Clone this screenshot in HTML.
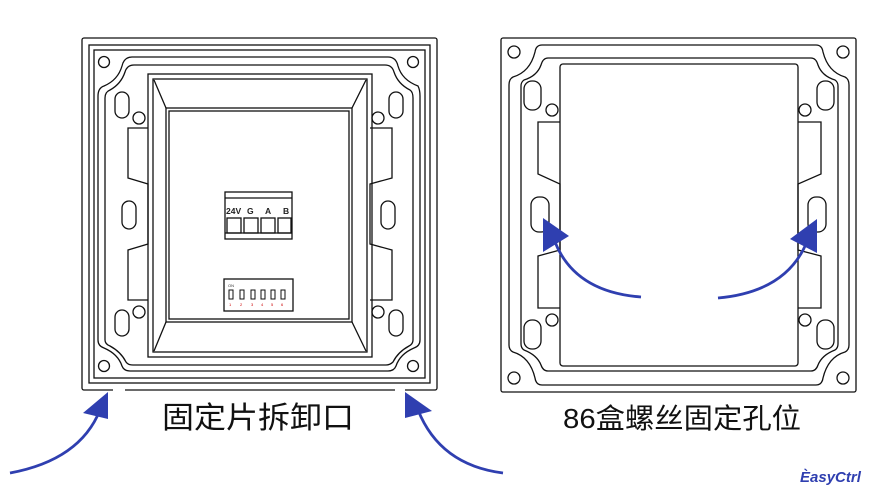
<!DOCTYPE html>
<html><head><meta charset="utf-8"><style>
html,body{margin:0;padding:0;background:#fff;width:870px;height:486px;overflow:hidden}
svg{display:block}
text{font-family:"Liberation Sans","Noto Sans CJK SC",sans-serif}
</style></head><body>
<svg width="870" height="486" viewBox="0 0 870 486" xmlns="http://www.w3.org/2000/svg">
<g fill="none" stroke="#111" stroke-width="1.3">
<!-- LEFT PANEL -->
<rect x="82" y="38" width="355" height="352" rx="2"/>
<rect x="89" y="45" width="341" height="338"/>
<rect x="94" y="50" width="331" height="328"/>
<path d="M132,57 H388 Q396,57 398,66 Q402,80 418,86 Q420,90 420,96 V340 Q420,346 414,348 Q400,354 396,366 Q394,371 388,371 H130 Q124,371 122,366 Q118,354 104,348 Q98,346 98,340 V96 Q98,88 104,86 Q118,80 122,66 Q124,57 132,57 Z"/>
<path d="M134,65 H385 Q392,65 394,72 Q398,84 410,90 Q413,92 413,98 V340 Q413,344 409,346 Q398,352 393,362 Q390,365 386,365 H133 Q128,365 126,362 Q121,352 110,346 Q105,344 105,340 V98 Q105,92 110,90 Q121,84 125,72 Q127,65 134,65 Z"/>
<circle cx="104" cy="62" r="5.5"/><circle cx="413" cy="62" r="5.5"/>
<circle cx="104" cy="366" r="5.5"/><circle cx="413" cy="366" r="5.5"/>
<rect x="115" y="92" width="14" height="26" rx="7"/><rect x="389" y="92" width="14" height="26" rx="7"/>
<rect x="115" y="310" width="14" height="26" rx="7"/><rect x="389" y="310" width="14" height="26" rx="7"/>
<rect x="122" y="201" width="14" height="28" rx="7"/><rect x="381" y="201" width="14" height="28" rx="7"/>
<circle cx="139" cy="118" r="6"/><circle cx="378" cy="118" r="6"/>
<circle cx="139" cy="312" r="6"/><circle cx="378" cy="312" r="6"/>
<path d="M148,128 H128 V178 L148,184 V244 L128,250 V300 H148"/>
<path d="M370,128 H392 V178 L370,184 V244 L392,250 V300 H370"/>
<rect x="148" y="74" width="224" height="283"/>
<rect x="153" y="79" width="214" height="273"/>
<rect x="166" y="108" width="186" height="214"/>
<rect x="169" y="111" width="180" height="208"/>
<line x1="154" y1="80" x2="166" y2="108"/><line x1="366" y1="80" x2="352" y2="108"/>
<line x1="154" y1="351" x2="166" y2="322"/><line x1="366" y1="351" x2="352" y2="322"/>
<rect x="225" y="192" width="67" height="47"/>
<line x1="225" y1="198" x2="292" y2="198"/>
<line x1="225" y1="233" x2="292" y2="233"/>
<rect x="227" y="218" width="14" height="15"/><rect x="244" y="218" width="14" height="15"/><rect x="261" y="218" width="14" height="15"/><rect x="278" y="218" width="13" height="15"/>
<rect x="224" y="279" width="69" height="32"/>
<g stroke-width="1"><rect x="229" y="290" width="4" height="9"/><rect x="240" y="290" width="4" height="9"/><rect x="251" y="290" width="4" height="9"/><rect x="261" y="290" width="4" height="9"/><rect x="271" y="290" width="4" height="9"/><rect x="281" y="290" width="4" height="9"/></g>
<!-- RIGHT PANEL -->
<rect x="501" y="38" width="355" height="354" rx="2"/>
<path d="M542,45 H816 Q822,45 823,52 Q828,72 845,77 Q849,79 849,85 V345 Q849,350 845,352 Q828,357 823,378 Q822,385 816,385 H542 Q536,385 535,378 Q530,357 513,352 Q509,350 509,345 V85 Q509,79 513,77 Q530,72 535,52 Q536,45 542,45 Z"/>
<path d="M548,58 H811 Q816,58 818,65 Q822,76 835,80 Q838,82 838,86 V344 Q838,348 835,350 Q822,355 818,365 Q816,371 811,371 H548 Q543,371 541,365 Q537,355 524,350 Q521,348 521,344 V86 Q521,82 524,80 Q537,76 541,65 Q543,58 548,58 Z"/>
<circle cx="514" cy="52" r="6"/><circle cx="843" cy="52" r="6"/>
<circle cx="514" cy="378" r="6"/><circle cx="843" cy="378" r="6"/>
<rect x="524" y="81" width="17" height="29" rx="8"/><rect x="817" y="81" width="17" height="29" rx="8"/>
<rect x="524" y="320" width="17" height="29" rx="8"/><rect x="817" y="320" width="17" height="29" rx="8"/>
<rect x="531" y="197" width="18" height="35" rx="8"/><rect x="808" y="197" width="18" height="35" rx="8"/>
<circle cx="552" cy="110" r="6"/><circle cx="805" cy="110" r="6"/>
<circle cx="552" cy="320" r="6"/><circle cx="805" cy="320" r="6"/>
<path d="M560,122 H538 V174 L560,184 V250 L538,256 V308 H560"/>
<path d="M798,122 H821 V174 L798,184 V250 L821,256 V308 H798"/>
<rect x="560" y="64" width="238" height="302" rx="3"/>
</g>
<!-- gaps at bottom of left frame -->
<line x1="113" y1="390" x2="125" y2="390" stroke="#fff" stroke-width="3"/>
<line x1="395" y1="390" x2="405" y2="390" stroke="#fff" stroke-width="3"/>
<!-- labels on terminal -->
<g font-family="Liberation Sans" font-weight="bold" font-size="8.5" fill="#222">
<text x="226" y="214">24V</text><text x="247" y="214">G</text><text x="265" y="214">A</text><text x="283" y="214">B</text>
</g>
<text x="228" y="287" font-size="4" fill="#333">ON</text>
<g font-size="4" fill="#c00"><text x="229" y="306">1</text><text x="240" y="306">2</text><text x="251" y="306">3</text><text x="261" y="306">4</text><text x="271" y="306">5</text><text x="281" y="306">6</text></g>
<!-- arrows -->
<g fill="none" stroke="#2f3fb0" stroke-width="2.8">
<path d="M10,473 Q80,460 100,410"/>
<path d="M503,473 Q440,465 418,410"/>
<path d="M641,297 Q575,292 555,242"/>
<path d="M718,298 Q785,292 806,244"/>
</g>
<g fill="#2f3fb0">
<polygon points="108,392 83,413 108,419"/>
<polygon points="405,392 432,411 405,418"/>
<polygon points="543,218 569,236 543,252"/>
<polygon points="817,219 790,239 817,253"/>
</g>
<text x="258" y="428" font-size="30" text-anchor="middle" fill="#111" textLength="192" lengthAdjust="spacingAndGlyphs">固定片拆卸口</text>
<text x="682" y="428" font-size="28" text-anchor="middle" fill="#111" textLength="238" lengthAdjust="spacingAndGlyphs">86盒螺丝固定孔位</text>
<text x="800" y="482" font-size="15" font-weight="bold" font-style="italic" fill="#2f3fb0">ÈasyCtrl</text>
</svg>
</body></html>
